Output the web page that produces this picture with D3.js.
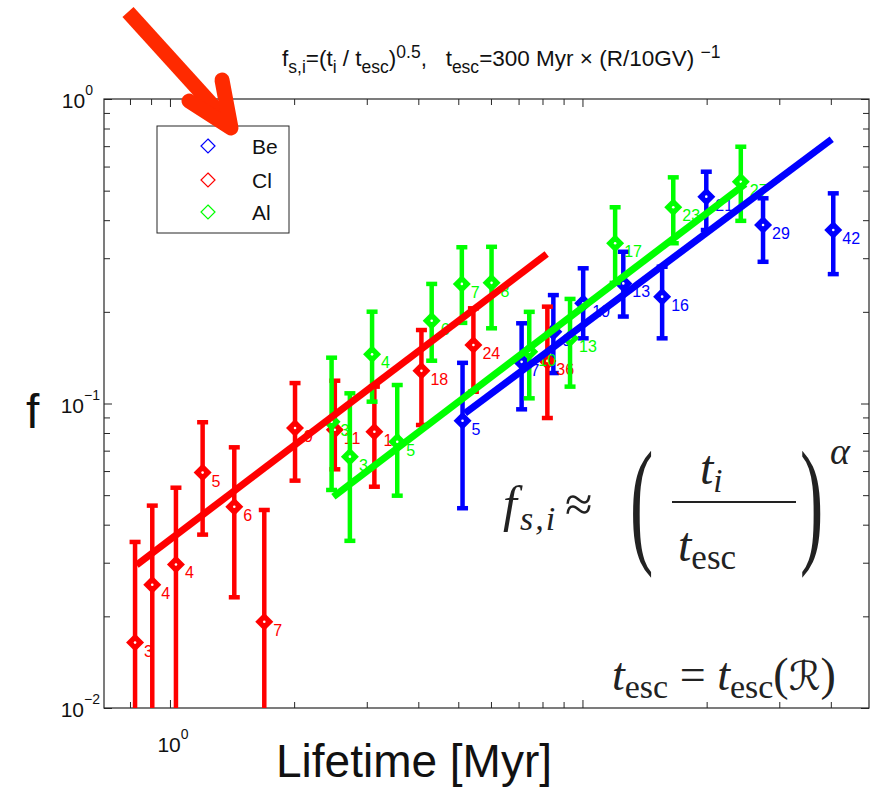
<!DOCTYPE html>
<html><head><meta charset="utf-8">
<script src="https://cdn.jsdelivr.net/npm/d3@7"></script>
<style>body{margin:0;background:#fff;} svg{display:block;}</style>
</head><body>
<svg id="chart" width="882" height="788"></svg>
<script>
// ---------- data ----------
const xDomain = [0.692, 49.5];
const yDomain = [0.01, 1];
const xTicks = [0.8, 0.9, 1, 2, 3, 4, 5, 6, 7, 8, 9, 10, 20, 30, 40];
const xMajor = [1, 10];
const yTicks = [0.01,0.02,0.03,0.04,0.05,0.06,0.07,0.08,0.09,0.1,0.2,0.3,0.4,0.5,0.6,0.7,0.8,0.9,1];
const yMajor = [0.01, 0.1, 1];
const yTickLabels = [{v:1,e:"0"},{v:0.1,e:"−1"},{v:0.01,e:"−2"}];
const xTickLabels = [{v:1,e:"0"}];
const seriesNames = ["Be", "Cl", "Al"];
const seriesColors = ["#0000ff", "#ff0000", "#00ff00"];

// Be
const beLabels = ["5","7","9","10","13","16","21","29","42"];
const beX  = [5.12, 7.12, 8.5, 10.04, 12.56, 15.6, 19.96, 27.4, 40.55];
const beY  = [0.0878, 0.137, 0.172, 0.2134, 0.248, 0.2243, 0.4778, 0.3857, 0.3713];
const beHi = [0.136, 0.1834, 0.227, 0.278, 0.315, 0.2813, 0.577, 0.472, 0.49];
const beLo = [0.0453, 0.0957, 0.1259, 0.1637, 0.193, 0.1637, 0.3713, 0.292, 0.266];
// Cl
const clLabels = ["3","4","4","5","6","7","9","11","14","18","24","36"];
const clX  = [0.823, 0.906, 1.034, 1.20, 1.432, 1.693, 2.01, 2.51, 3.13, 4.07, 5.44, 8.22];
const clY  = [0.0164, 0.0254, 0.0296, 0.0593, 0.0458, 0.0192, 0.0831, 0.082, 0.0808, 0.128, 0.1556, 0.138];
const clHi = [0.0351, 0.0462, 0.0529, 0.0868, 0.0718, 0.0447, 0.1167, 0.1188, 0.1136, 0.1743, 0.2054, 0.208];
const clLo = [0.003, 0.003, 0.003, 0.0371, 0.0231, 0.003, 0.0558, 0.0608, 0.0533, 0.085, 0.1093, 0.0896];
// Al
const alLabels = ["3","3","4","5","6","7","8","10","13","17","23","27"];
const alX  = [2.465, 2.73, 3.09, 3.556, 4.31, 5.10, 6.02, 7.43, 9.33, 12.0, 16.6, 24.2];
const alY  = [0.0871, 0.0669, 0.145, 0.0749, 0.187, 0.247, 0.249, 0.148, 0.1637, 0.336, 0.441, 0.535];
const alHi = [0.1414, 0.108, 0.2002, 0.115, 0.247, 0.326, 0.327, 0.200, 0.2205, 0.441, 0.553, 0.697];
const alLo = [0.052, 0.0354, 0.1014, 0.0498, 0.1382, 0.184, 0.1766, 0.104, 0.1136, 0.249, 0.336, 0.398];
// fit lines (end points)
const clFitX = [0.830, 8.19],  clFitY = [0.0295, 0.3097];
const alFitX = [2.49, 24.8],   alFitY = [0.0494, 0.526];
const beFitX = [5.19, 40.2],   beFitY = [0.0929, 0.7375];

// ---------- layout ----------
const W = 882, H = 788;
const P = {left:104, right:869, top:99, bottom:708};
const SANS = '"Liberation Sans", Arial, Helvetica, sans-serif';
const SERIF = '"Liberation Serif", "DejaVu Serif", "Times New Roman", serif';

const x = d3.scaleLog().domain(xDomain).range([P.left, P.right]);
const y = d3.scaleLog().domain(yDomain).range([P.bottom, P.top]);

const svg = d3.select("#chart");
svg.append("rect").attr("width", W).attr("height", H).attr("fill", "#fff");
svg.append("defs").append("clipPath").attr("id", "clip")
  .append("rect").attr("x", P.left).attr("y", P.top)
  .attr("width", P.right - P.left).attr("height", P.bottom - P.top);

// ---------- axes ----------
const axCol = "#262626";
function styleAxis(g, majors, sign, horiz) {
  g.select(".domain").remove();
  g.selectAll(".tick line").attr("stroke", axCol).attr("stroke-width", 1);
  g.selectAll(".tick").each(function(d){
    if (majors.some(m => Math.abs(m - d) < 1e-9)) {
      const ln = d3.select(this).select("line");
      if (horiz) ln.attr("y2", sign * 8); else ln.attr("x2", sign * 8);
    }
  });
}
const gxB = svg.append("g").attr("transform", `translate(0,${P.bottom})`)
  .call(d3.axisBottom(x).tickValues(xTicks).tickSize(-6).tickFormat(""));
styleAxis(gxB, xMajor, -1, true);
const gxT = svg.append("g").attr("transform", `translate(0,${P.top})`)
  .call(d3.axisTop(x).tickValues(xTicks).tickSize(-6).tickFormat(""));
styleAxis(gxT, xMajor, 1, true);
const gyL = svg.append("g").attr("transform", `translate(${P.left},0)`)
  .call(d3.axisLeft(y).tickValues(yTicks).tickSize(-6).tickFormat(""));
styleAxis(gyL, yMajor, 1, false);
const gyR = svg.append("g").attr("transform", `translate(${P.right},0)`)
  .call(d3.axisRight(y).tickValues(yTicks).tickSize(-6).tickFormat(""));
styleAxis(gyR, yMajor, -1, false);
svg.selectAll(".tick text").remove();

svg.append("rect").attr("x", P.left).attr("y", P.top)
  .attr("width", P.right - P.left).attr("height", P.bottom - P.top)
  .attr("fill", "none").attr("stroke", axCol).attr("stroke-width", 1.2);

// tick labels (10^n)
yTickLabels.forEach(t => {
  const tx = svg.append("text").attr("x", t.e === "0" ? 93 : 100).attr("y", y(t.v) + 9)
    .attr("text-anchor", "end").attr("font-family", SANS).attr("fill", "#111")
    .attr("font-size", 21);
  tx.append("tspan").text("10");
  tx.append("tspan").attr("font-size", 14).attr("dy", -13).text(t.e);
});
xTickLabels.forEach(t => {
  const tx = svg.append("text").attr("x", x(t.v) + 3).attr("y", 752)
    .attr("text-anchor", "middle").attr("font-family", SANS).attr("fill", "#111")
    .attr("font-size", 21);
  tx.append("tspan").text("10");
  tx.append("tspan").attr("font-size", 14).attr("dy", -13).text(t.e);
});

// ---------- data ----------
const plotG = svg.append("g").attr("clip-path", "url(#clip)");
function drawSeries(xs, ys, lo, hi, labels, color) {
  const data = xs.map((d, i) => ({x: d, y: ys[i], lo: lo[i], hi: hi[i], label: labels[i]}));
  const g = plotG.append("g");
  g.selectAll(".bar").data(data).enter().append("line")
    .attr("x1", d => x(d.x)).attr("x2", d => x(d.x))
    .attr("y1", d => y(d.lo)).attr("y2", d => y(d.hi))
    .attr("stroke", color).attr("stroke-width", 4.5);
  ["lo", "hi"].forEach(k => {
    g.selectAll(".cap" + k).data(data).enter().append("line")
      .attr("x1", d => x(d.x) - 5.5).attr("x2", d => x(d.x) + 5.5)
      .attr("y1", d => y(d[k])).attr("y2", d => y(d[k]))
      .attr("stroke", color).attr("stroke-width", 4.5);
  });
  g.selectAll(".mk").data(data).enter().append("path")
    .attr("d", d => { const cx = x(d.x), cy = y(d.y), r = 9;
      return `M${cx},${cy - r}L${cx + r},${cy}L${cx},${cy + r}L${cx - r},${cy}Z`; })
    .attr("fill", color);
  g.selectAll(".dot").data(data).enter().append("circle")
    .attr("cx", d => x(d.x)).attr("cy", d => y(d.y)).attr("r", 1.3).attr("fill", "#fff");
  g.selectAll(".lab").data(data).enter().append("text")
    .attr("x", d => x(d.x) + 9).attr("y", d => y(d.y) + 14)
    .attr("font-family", SANS).attr("font-size", 16).attr("fill", color)
    .text(d => d.label);
}
drawSeries(beX, beY, beLo, beHi, beLabels, seriesColors[0]);
drawSeries(clX, clY, clLo, clHi, clLabels, seriesColors[1]);
drawSeries(alX, alY, alLo, alHi, alLabels, seriesColors[2]);

// fit lines
const line = d3.line().x(d => x(d[0])).y(d => y(d[1]));
[[clFitX, clFitY, seriesColors[1]], [alFitX, alFitY, seriesColors[2]], [beFitX, beFitY, seriesColors[0]]]
  .forEach(([fx, fy, c]) => {
    plotG.append("path").attr("d", line(fx.map((v, i) => [v, fy[i]])))
      .attr("stroke", c).attr("stroke-width", 7).attr("fill", "none");
  });

// ---------- legend ----------
const lg = svg.append("g");
lg.append("rect").attr("x", 157).attr("y", 126).attr("width", 132).attr("height", 107)
  .attr("fill", "#fff").attr("stroke", axCol).attr("stroke-width", 1);
const legY = [146, 180, 212];
seriesNames.forEach((n, i) => {
  const cy = legY[i], cx = 208, r = 7;
  lg.append("path").attr("d", `M${cx},${cy - r}L${cx + r},${cy}L${cx},${cy + r}L${cx - r},${cy}Z`)
    .attr("fill", "none").attr("stroke", seriesColors[i]).attr("stroke-width", 1.2);
  lg.append("text").attr("x", 252).attr("y", cy + 8).attr("font-family", SANS)
    .attr("font-size", 21).attr("fill", "#111").text(n);
});

// ---------- title ----------
const title = svg.append("text").attr("x", 282).attr("y", 66).attr("font-family", SANS)
  .attr("font-size", 22.5).attr("fill", "#111").attr("xml:space", "preserve");
function ts(txt, opt) { const s = title.append("tspan").text(txt);
  if (opt) Object.entries(opt).forEach(([k, v]) => s.attr(k, v)); return s; }
ts("f"); ts("s,i", {"font-size": 17.5, dy: 7}); ts("=(t", {dy: -7});
ts("i", {"font-size": 17.5, dy: 7}); ts(" / t", {dy: -7});
ts("esc", {"font-size": 17.5, dy: 7}); ts(")", {dy: -7});
ts("0.5", {"font-size": 17.5, dy: -8}); ts(",\u00a0\u00a0 t", {dy: 8});
ts("esc", {"font-size": 17.5, dy: 7}); ts("=300 Myr × (R/10GV) ", {dy: -7});
ts("−1", {"font-size": 17.5, dy: -8});

// axis labels
svg.append("text").attr("x", 26).attr("y", 428).attr("font-family", SANS)
  .attr("font-size", 48).attr("fill", "#111").text("f");
svg.append("text").attr("x", 414).attr("y", 777).attr("text-anchor", "middle")
  .attr("font-family", SANS).attr("font-size", 46).attr("fill", "#111").text("Lifetime [Myr]");

// ---------- formula overlay ----------
const fc = "#222";
const f1 = svg.append("text").attr("x", 503).attr("y", 521).attr("font-family", SERIF)
  .attr("font-size", 50).attr("fill", fc);
f1.append("tspan").attr("font-style", "italic").text("f");
f1.append("tspan").attr("font-style", "italic").attr("font-size", 34).attr("letter-spacing", 2)
  .attr("dy", 9).attr("dx", 3).text("s,i");
f1.append("tspan").attr("dy", -9).attr("dx", 8).text("≈");
svg.append("text").attr("transform", "translate(630,548) scale(0.5,1)")
  .attr("font-family", SERIF).attr("font-size", 140).attr("fill", fc).text("(");
svg.append("text").attr("transform", "translate(800,548) scale(0.5,1)")
  .attr("font-family", SERIF).attr("font-size", 140).attr("fill", fc).text(")");
const num = svg.append("text").attr("x", 700).attr("y", 484).attr("font-family", SERIF)
  .attr("font-size", 48).attr("fill", fc);
num.append("tspan").attr("font-style", "italic").text("t");
num.append("tspan").attr("font-style", "italic").attr("font-size", 33).attr("dy", 8).text("i");
svg.append("line").attr("x1", 672).attr("x2", 796).attr("y1", 502).attr("y2", 502)
  .attr("stroke", fc).attr("stroke-width", 2.2);
const den = svg.append("text").attr("x", 678).attr("y", 561).attr("font-family", SERIF)
  .attr("font-size", 48).attr("fill", fc);
den.append("tspan").attr("font-style", "italic").text("t");
den.append("tspan").attr("font-size", 35).attr("dy", 8).text("esc");
svg.append("text").attr("x", 830).attr("y", 464).attr("font-family", SERIF)
  .attr("font-size", 38).attr("font-style", "italic").attr("fill", fc).text("α");

const f2 = svg.append("text").attr("x", 612).attr("y", 690).attr("font-family", SERIF)
  .attr("font-size", 46).attr("fill", fc);
f2.append("tspan").attr("font-style", "italic").text("t");
f2.append("tspan").attr("font-size", 34).attr("dy", 8).text("esc");
f2.append("tspan").attr("dy", -8).text(" = ");
f2.append("tspan").attr("font-style", "italic").text("t");
f2.append("tspan").attr("font-size", 34).attr("dy", 8).text("esc");
f2.append("tspan").attr("dy", -8).text("(");
f2.append("tspan").attr("font-family", '"DejaVu Serif", "DejaVu Sans", serif').attr("font-size", 40).text("ℛ");
f2.append("tspan").text(")");

// ---------- red annotation arrow ----------
const arrow = svg.append("g").attr("stroke", "#ff2a00").attr("fill", "none")
  .attr("stroke-width", 15).attr("stroke-linecap", "round").attr("stroke-linejoin", "round");
arrow.append("line").attr("x1", 128).attr("y1", 12).attr("x2", 226).attr("y2", 120).attr("stroke-linecap", "butt");
arrow.append("polyline").attr("points", "189,101 231,128 222,80");
</script>
</body></html>
